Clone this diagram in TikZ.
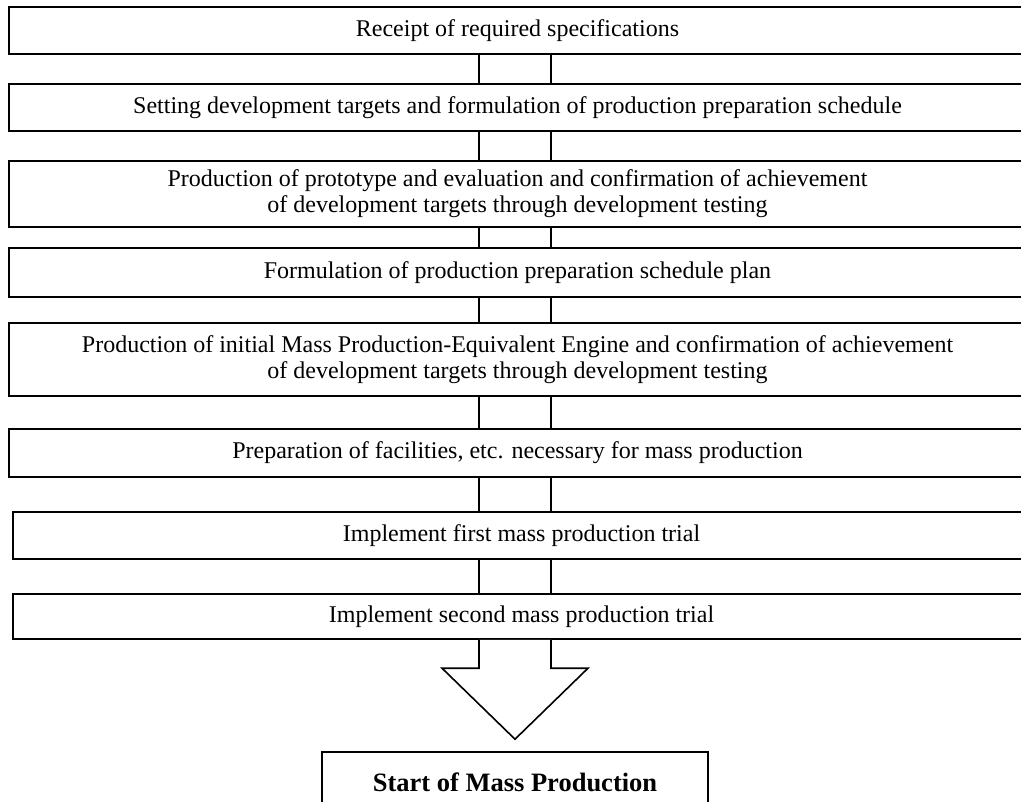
\documentclass[tikz,border=0pt]{standalone}
\usepackage{fontspec}
\setmainfont{Liberation Serif}
\usetikzlibrary{calc}
\tikzset{
  stepbox/.style={draw, line width=1.6pt, rectangle, inner sep=0pt, minimum width=1017pt,
    font=\fontsize{24}{26}\selectfont, align=center},
  conn/.style={line width=1.6pt},
  bigarrow/.style={draw, line width=1.6pt, fill=white, line join=miter},
}
\begin{document}
\begin{tikzpicture}[x=1pt,y=-1pt]
\useasboundingbox (0,0) rectangle (1021,802);
\clip (0,0) rectangle (1021,802);
% axis coordinates for connector lines
\coordinate (L) at (479,0);
\coordinate (R) at (551,0);
% boxes (right edges lie just beyond the picture)
\node[stepbox, minimum height=47pt] (b1) at (517.5,30.5) {Receipt of required specifications};
\node[stepbox, minimum height=47pt] (b2) at (517.5,107.5) {Setting development targets and formulation of production preparation schedule};
\node[stepbox, minimum height=66pt] (b3) at (517.5,194) {Production of prototype and evaluation and confirmation of achievement\\of development targets through development testing};
\node[stepbox, minimum height=49pt] (b4) at (517.5,272.5) {Formulation of production preparation schedule plan};
\node[stepbox, minimum height=73pt] (b5) at (517.5,359.5) {Production of initial Mass Production-Equivalent Engine and confirmation of achievement\\of development targets through development testing};
\node[stepbox, minimum height=48pt] (b6) at (517.5,453) {Preparation of facilities, etc. necessary for mass production};
\node[stepbox, minimum height=47pt] (b7) at (521.5,535.5) {Implement first mass production trial};
\node[stepbox, minimum height=45pt] (b8) at (521.5,616.5) {Implement second mass production trial};
% connectors (double lines)
\foreach \a/\b in {b1/b2,b2/b3,b3/b4,b4/b5,b5/b6,b6/b7,b7/b8}{
  \draw[conn] (\a.south -| L) -- (\b.north -| L);
  \draw[conn] (\a.south -| R) -- (\b.north -| R);
}
% final box
\node[draw, line width=1.6pt, minimum width=386pt, minimum height=60pt, inner sep=0pt,
  font=\fontsize{26.5}{30}\selectfont\bfseries] (fin) at (515,782) {Start of Mass Production};
% block arrow
\coordinate (tip) at (fin.north);
\draw[bigarrow] (b8.south -| L) -- ($(tip -| L)+(0,-83)$) -- ($(tip)+(-73,-83)$) -- ($(tip)+(0,-12)$) -- ($(tip)+(73,-83)$) -- ($(tip -| R)+(0,-83)$) -- (b8.south -| R);
\end{tikzpicture}
\end{document}
